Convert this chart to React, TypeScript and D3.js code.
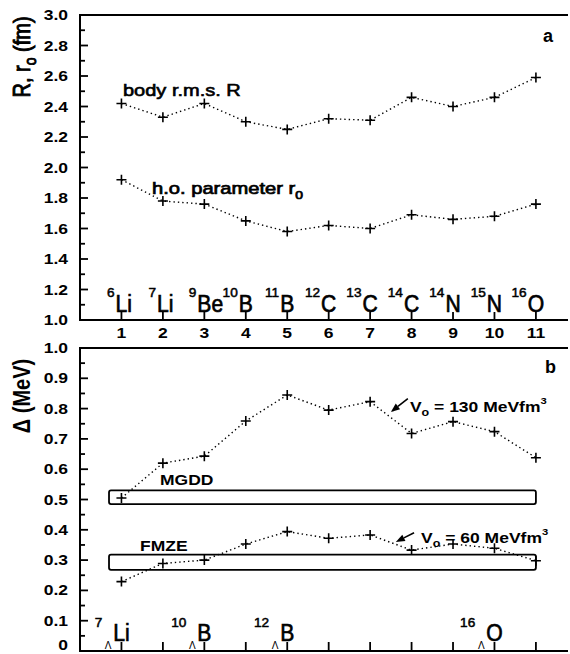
import { useEffect, useRef } from "react";
import * as d3 from "d3";

const FONT = "'Liberation Sans', Arial, Helvetica, sans-serif";

// x positions (nucleus index)
const xTicks = [1, 2, 3, 4, 5, 6, 7, 8, 9, 10, 11];

// panel a: nuclei
const massA = ["6", "7", "9", "10", "11", "12", "13", "14", "14", "15", "16"];
const elemA = ["Li", "Li", "Be", "B", "B", "C", "C", "C", "N", "N", "O"];
const rmsR = [2.42, 2.33, 2.42, 2.3, 2.25, 2.32, 2.31, 2.46, 2.4, 2.46, 2.59];
const hoR0 = [1.92, 1.78, 1.76, 1.65, 1.58, 1.62, 1.6, 1.69, 1.66, 1.68, 1.76];
const ticksA = [1.0, 1.2, 1.4, 1.6, 1.8, 2.0, 2.2, 2.4, 2.6, 2.8, 3.0];
const tickLabelsA = ["1.0", "1.2", "1.4", "1.6", "1.8", "2.0", "2.2", "2.4", "2.6", "2.8", "3.0"];

// panel b: hypernuclei
const delta130 = [0.505, 0.62, 0.643, 0.759, 0.845, 0.795, 0.823, 0.718, 0.757, 0.724, 0.638];
const delta60 = [0.229, 0.289, 0.3, 0.353, 0.394, 0.372, 0.383, 0.333, 0.353, 0.339, 0.298];
const ticksB = [0, 0.1, 0.2, 0.3, 0.4, 0.5, 0.6, 0.7, 0.8, 0.9, 1.0];
const tickLabelsB = ["0", "0.1", "0.2", "0.3", "0.4", "0.5", "0.6", "0.7", "0.8", "0.9", "1.0"];
const hyperPos = [1, 3, 5, 10];
const hyperMass = ["7", "10", "12", "16"];
const hyperElem = ["Li", "B", "B", "O"];
const bandX = [0.7, 11];
const bandMGDD = [0.485, 0.53];
const bandFMZE = [0.268, 0.318];

const letterW: Record<string, number> = { L: 0.556, B: 0.667, C: 0.722, N: 0.722, O: 0.778 };

type Part = { t: string; size?: number; dy?: number };
type Opts = {
  size: number;
  weight?: string;
  anchor?: string;
  sx?: number;
  sy?: number;
  rotate?: number;
  thick?: number;
};

function addText(parent: any, x: number, y: number, parts: Part[], o: Opts) {
  const g = parent
    .append("g")
    .attr("transform", `translate(${x},${y}) rotate(${o.rotate ?? 0}) scale(${o.sx ?? 1},${o.sy ?? 1})`);
  const text = g
    .append("text")
    .attr("font-family", FONT)
    .attr("font-size", o.size)
    .attr("font-weight", o.weight ?? "bold")
    .attr("text-anchor", o.anchor ?? "start")
    .attr("fill", "#000");
  if (o.thick) text.attr("stroke", "#000").attr("stroke-width", o.thick);
  let shift = 0;
  parts.forEach((p) => {
    const want = p.dy ?? 0;
    text
      .append("tspan")
      .attr("dy", want - shift)
      .attr("font-size", p.size ?? o.size)
      .text(p.t);
    shift = want;
  });
}

function plus(g: any, x: number, y: number) {
  g.append("path")
    .attr("d", `M${x - 5},${y}H${x + 5}M${x},${y - 5}V${y + 5}`)
    .attr("stroke", "#000")
    .attr("stroke-width", 1.6);
}

export default function App() {
  const svgRef = useRef<SVGSVGElement>(null);

  useEffect(() => {
    const svg = svgRef.current;
    if (!svg) return;
    const sel = d3.select(svg);
    sel.selectAll("*").remove();

    const left = 80;
    const right = 568;
    const x = d3.scaleLinear().domain([0, 11.75]).range([left, 567]);
    const yA = d3.scaleLinear().domain([1, 3]).range([320, 15]);
    const yB = d3.scaleLinear().domain([0, 1]).range([651, 348]);

    const line = (ys: any) =>
      d3
        .line<number>()
        .x((_d, i) => x(xTicks[i]))
        .y((d) => ys(d));

    // ---------- panel frames ----------
    const frame = (y: any) => {
      const [lo, hi] = y.domain();
      sel.append("path")
        .attr("d", `M${right},${y(hi)}H${left}V${y(lo)}H${right}`)
        .attr("fill", "none")
        .attr("stroke", "#000")
        .attr("stroke-width", 2);
    };
    frame(yA);
    frame(yB);

    // left axis ticks + labels
    const leftAxis = (y: any, ticks: number[], labels: string[], minorStep: number) => {
      const [lo, hi] = y.domain();
      const minor = d3.range(lo, hi + 1e-9, minorStep);
      minor.forEach((v) => {
        const isMajor = ticks.some((t) => Math.abs(t - v) < 1e-6);
        sel.append("line")
          .attr("x1", left).attr("x2", left + (isMajor ? 8 : 5))
          .attr("y1", y(v)).attr("y2", y(v))
          .attr("stroke", "#000").attr("stroke-width", 1.8);
      });
      ticks.forEach((t, i) => {
        const yy = Math.min(y(t) + 5, 650);
        addText(sel, 68, yy, [{ t: labels[i] }], { size: 14, anchor: "end", sx: 1.25 });
      });
    };
    leftAxis(yA, ticksA, tickLabelsA, 0.1);
    leftAxis(yB, ticksB, tickLabelsB, 0.05);

    // bottom ticks (inward)
    xTicks.forEach((t) => {
      sel.append("line")
        .attr("x1", x(t)).attr("x2", x(t))
        .attr("y1", yA(1)).attr("y2", yA(1) - 8)
        .attr("stroke", "#000").attr("stroke-width", 1.8);
      sel.append("line")
        .attr("x1", x(t)).attr("x2", x(t))
        .attr("y1", yB(0)).attr("y2", yB(0) - 9)
        .attr("stroke", "#000").attr("stroke-width", 1.8);
      addText(sel, x(t), 338, [{ t: String(t) }], { size: 14, anchor: "middle", sx: 1.25 });
    });

    // nucleus labels panel a
    xTicks.forEach((t, i) => {
      const elem = elemA[i];
      const size = 24;
      const sx = 0.88;
      const w = (letterW[elem[0]] ?? 0.66) * size * sx;
      const x0 = x(t) - w / 2;
      addText(sel, x0, 312, [{ t: elem }], { size, weight: "normal", sx, thick: 0.7 });
      addText(sel, x0 - 1, 297, [{ t: massA[i] }], { size: 13, weight: "normal", anchor: "end", sx: 1.05, thick: 0.5 });
    });

    // hypernucleus labels panel b
    hyperPos.forEach((p, i) => {
      const elem = hyperElem[i];
      const size = 24;
      const sx = 0.88;
      const w = (elem === "Li" ? 0.78 : letterW[elem[0]]) * size * sx;
      const x0 = x(p) - w / 2;
      addText(sel, x0, 641, [{ t: elem }], { size, weight: "normal", sx, thick: 0.7 });
      addText(sel, x0 - 5, 649, [{ t: "Λ" }], { size: 10, weight: "normal", anchor: "middle" });
      addText(sel, x0 - 11, 627, [{ t: hyperMass[i] }], { size: 13, weight: "normal", anchor: "end", sx: 1.05, thick: 0.5 });
    });

    // ---------- axis titles & panel letters ----------
    addText(sel, 30, 57, [{ t: "R, r" }, { t: "o", size: 14, dy: 5 }, { t: " (fm)", dy: 0 }], {
      size: 20, weight: "normal", anchor: "middle", rotate: -90, sy: 1.2, thick: 0.8,
    });
    addText(sel, 30, 396, [{ t: "Δ (MeV)" }], { size: 20, anchor: "middle", rotate: -90, sy: 1.2 });
    addText(sel, 543, 42, [{ t: "a" }], { size: 18 });
    addText(sel, 545, 373, [{ t: "b" }], { size: 18 });

    // ---------- panel a series ----------
    [rmsR, hoR0].forEach((s) => {
      sel.append("path")
        .attr("d", line(yA)(s) ?? "")
        .attr("fill", "none")
        .attr("stroke", "#000")
        .attr("stroke-width", 1.4)
        .attr("stroke-dasharray", "1.4 3");
      s.forEach((v, i) => plus(sel, x(xTicks[i]), yA(v)));
    });
    addText(sel, 123, 96, [{ t: "body r.m.s. R" }], { size: 16, weight: "normal", sx: 1.25, thick: 0.6 });
    addText(sel, 152, 194, [{ t: "h.o. parameter r" }, { t: "0", size: 11, dy: 5 }], {
      size: 16, weight: "normal", sx: 1.26, thick: 0.7,
    });

    // ---------- panel b bands ----------
    [bandMGDD, bandFMZE].forEach((b) => {
      sel.append("rect")
        .attr("x", x(bandX[0]))
        .attr("y", yB(b[1]))
        .attr("width", x(bandX[1]) - x(bandX[0]))
        .attr("height", yB(b[0]) - yB(b[1]))
        .attr("rx", 2)
        .attr("fill", "none")
        .attr("stroke", "#000")
        .attr("stroke-width", 1.8);
    });
    addText(sel, 160, 485, [{ t: "MGDD" }], { size: 14, sx: 1.25 });
    addText(sel, 140, 551, [{ t: "FMZE" }], { size: 14, sx: 1.25 });

    // ---------- panel b series ----------
    [delta130, delta60].forEach((s) => {
      sel.append("path")
        .attr("d", line(yB)(s) ?? "")
        .attr("fill", "none")
        .attr("stroke", "#000")
        .attr("stroke-width", 1.4)
        .attr("stroke-dasharray", "1.4 3");
      s.forEach((v, i) => plus(sel, x(xTicks[i]), yB(v)));
    });

    // annotations with arrows
    const arrow = (tip: [number, number], tail: [number, number]) => {
      const [x1, y1] = [x(tip[0]), yB(tip[1])];
      const [x2, y2] = [x(tail[0]), yB(tail[1])];
      const ang = Math.atan2(y2 - y1, x2 - x1);
      const L = 9;
      const W = 3.5;
      const bx = x1 + L * Math.cos(ang);
      const by = y1 + L * Math.sin(ang);
      sel.append("line")
        .attr("x1", bx).attr("y1", by).attr("x2", x2).attr("y2", y2)
        .attr("stroke", "#000").attr("stroke-width", 1.6);
      sel.append("path")
        .attr(
          "d",
          `M${x1},${y1}L${bx - W * Math.sin(ang)},${by + W * Math.cos(ang)}L${bx + W * Math.sin(ang)},${by - W * Math.cos(ang)}Z`
        )
        .attr("fill", "#000");
    };
    arrow([7.5, 0.789], [7.91, 0.833]);
    arrow([7.62, 0.36], [8.06, 0.39]);

    const vLabel = (xv: number, yv: number, num: string) =>
      addText(
        sel,
        x(xv),
        yB(yv),
        [
          { t: "V" },
          { t: "o", size: 10, dy: 4 },
          { t: " = " + num + " MeVfm", dy: 0 },
          { t: "3", size: 9, dy: -8 },
        ],
        { size: 14, sx: 1.25 }
      );
    vLabel(7.96, 0.79, "130");
    vLabel(8.23, 0.356, "60");
  }, []);

  return (
    <svg
      ref={svgRef}
      width={570}
      height={654}
      style={{ position: "absolute", left: 0, top: 0, background: "#fff" }}
    />
  );
}
